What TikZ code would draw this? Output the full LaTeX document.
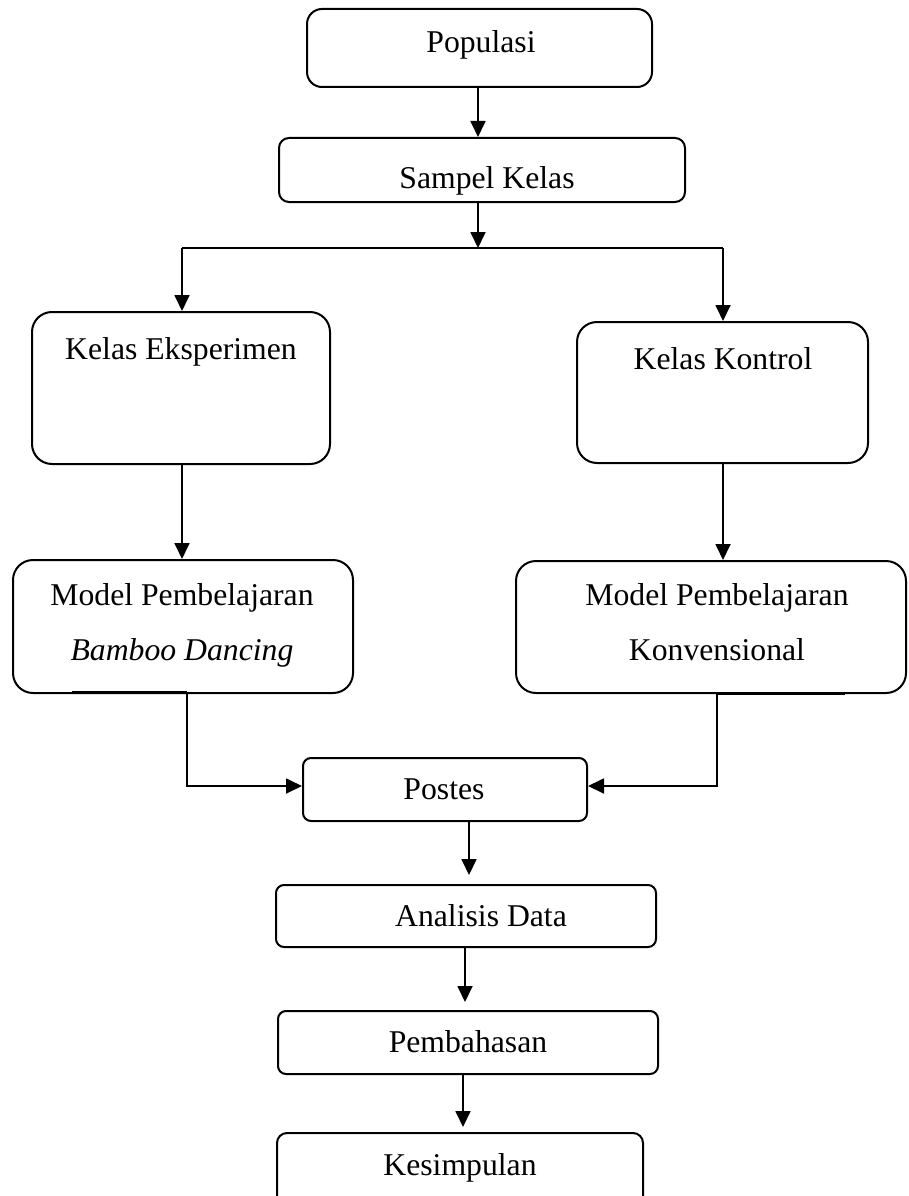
\documentclass[tikz,border=0pt]{standalone}
\usepackage{fontspec}
\setmainfont{Liberation Serif}
\usetikzlibrary{arrows.meta,calc}
\begin{document}
\begin{tikzpicture}[x=1pt,y=-1pt,
  rbox/.style={draw, line width=2pt, inner sep=0pt},
  lbl/.style={font=\fontsize{31.7}{38}\selectfont, inner sep=0pt, anchor=base},
  arr/.style={line width=1.8pt, -{Triangle[length=16pt,width=15pt]}},
  ln/.style={line width=1.8pt}]
\clip (0,0) rectangle (908,1196);
\fill[white] (0,0) rectangle (908,1196);

% boxes
\node[rbox, rounded corners=15pt, minimum width=345pt, minimum height=78pt] (pop) at (479.5,48) {};
\node[rbox, rounded corners=10pt, minimum width=406pt, minimum height=64pt] (samp) at (482,170) {};
\node[rbox, rounded corners=20pt, minimum width=298pt, minimum height=152pt] (eks) at (181,388) {};
\node[rbox, rounded corners=20pt, minimum width=291pt, minimum height=141pt] (kon) at (722.5,392.5) {};
\node[rbox, rounded corners=20pt, minimum width=340pt, minimum height=133pt] (mL) at (183,626.5) {};
\node[rbox, rounded corners=20pt, minimum width=390pt, minimum height=132pt] (mR) at (711,627) {};
\node[rbox, rounded corners=8pt, minimum width=284pt, minimum height=63pt] (post) at (445,789.5) {};
\node[rbox, rounded corners=8pt, minimum width=380pt, minimum height=62pt] (ana) at (466,916) {};
\node[rbox, rounded corners=8pt, minimum width=380pt, minimum height=63pt] (pem) at (468,1042.5) {};
\node[rbox, rounded corners=10pt, minimum width=366pt, minimum height=97pt] (kes) at (460,1181.5) {};

% texts
\node[lbl] (tpop) at (481,53) {Populasi};
\node[lbl] (tsamp) at (487,188) {Sampel Kelas};
\node[lbl] (teks) at (181,359) {Kelas Eksperimen};
\node[lbl] (tkon) at (723,369) {Kelas Kontrol};
\node[lbl] (tmL1) at (182,605) {Model Pembelajaran};
\node[lbl] (tmL2) at (182,660) {\itshape Bamboo Dancing};
\node[lbl] (tmR1) at (717,605) {Model Pembelajaran};
\node[lbl] (tmR2) at (717,660) {Konvensional};
\node[lbl] (tpost) at (444,799) {Postes};
\node[lbl] (tana) at (481,926) {Analisis Data};
\node[lbl] (tpem) at (468,1052) {Pembahasan};
\node[lbl] (tkes) at (460,1175) {Kesimpulan};

% coordinates
\coordinate (cx) at (478,0);
\coordinate (split) at (478,248);
\coordinate (hl) at (182,248);
\coordinate (hr) at (723,248);
\coordinate (mLa) at (72,692);
\coordinate (mLb) at (187,692);
\coordinate (mRa) at (717,693);
\coordinate (mRb) at (845,693);
\coordinate (pin) at (0,786);
\coordinate (a1) at (469,0);
\coordinate (a2) at (465,0);
\coordinate (a3) at (463,0);

% connectors
\draw[arr] (pop.south -| cx) -- (samp.north -| cx);
\draw[arr] (samp.south -| cx) -- (split);
\draw[ln] (hl) -- (hr);
\draw[arr] (hl) -- (eks.north -| hl);
\draw[arr] (hr) -- (kon.north -| hr);
\draw[arr] (eks.south -| hl) -- (mL.north -| hl);
\draw[arr] (kon.south -| hr) -- (mR.north -| hr);
\draw[line width=3pt] (mLa) -- (mLb);
\draw[line width=3pt] (mRa) -- (mRb);
\draw[arr] (mLb) |- (post.west |- pin);
\draw[arr] (mRa) |- (post.east |- pin);
\draw[arr, shorten >=9pt] (post.south -| a1) -- (ana.north -| a1);
\draw[arr, shorten >=8pt] (ana.south -| a2) -- (pem.north -| a2);
\draw[arr, shorten >=5pt] (pem.south -| a3) -- (kes.north -| a3);
\end{tikzpicture}
\end{document}
